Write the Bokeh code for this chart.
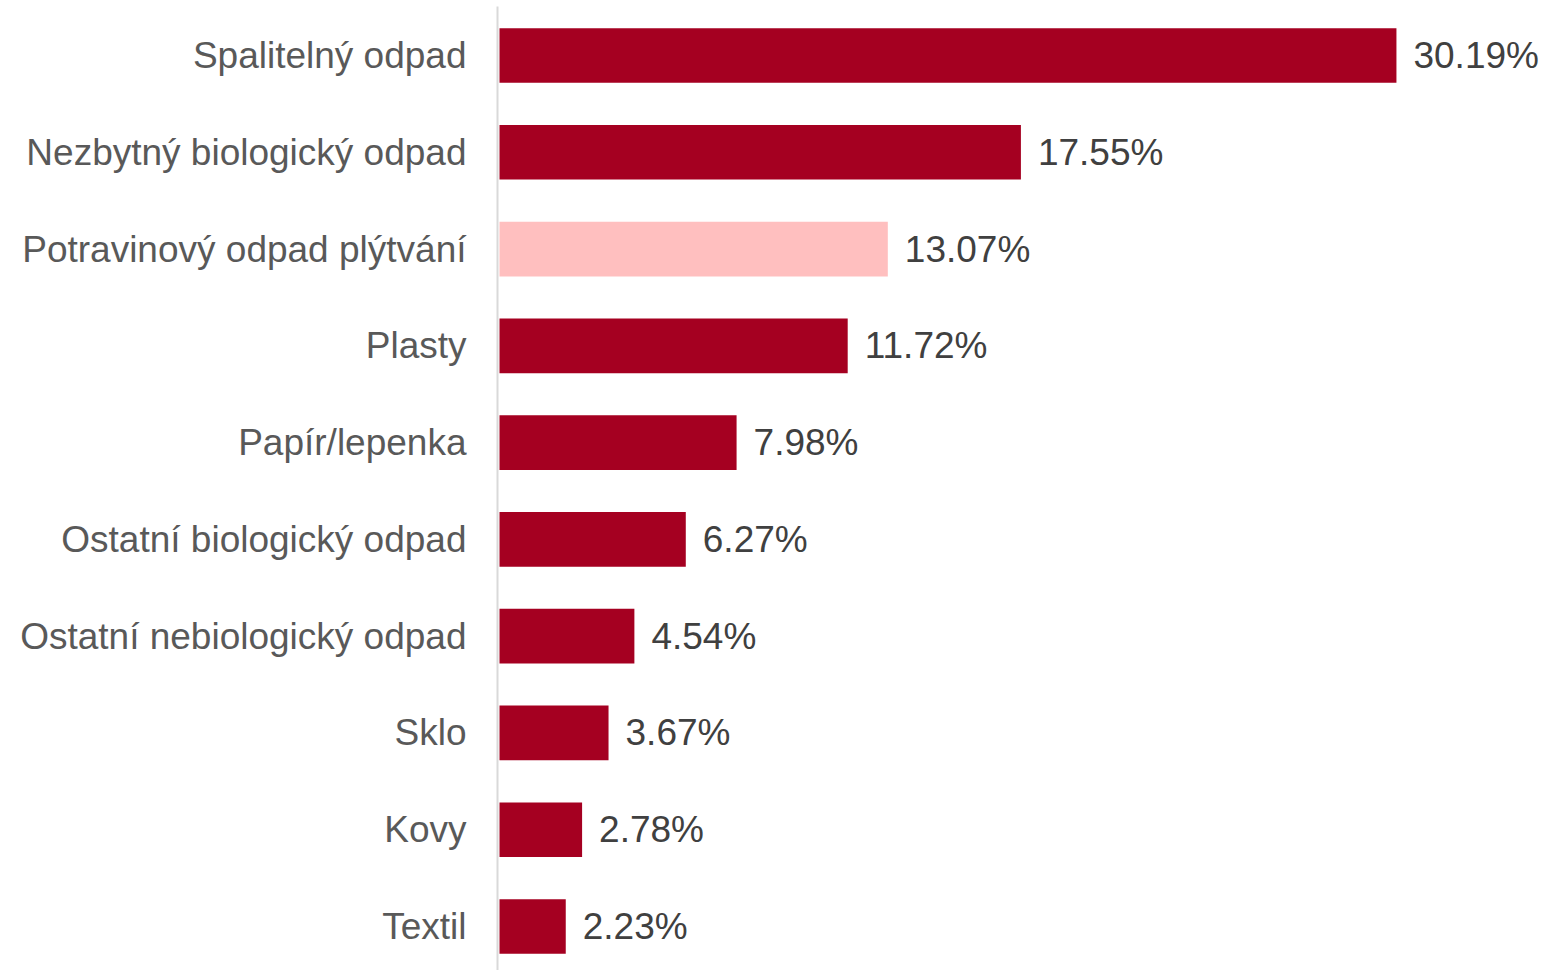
from bokeh.plotting import figure
from bokeh.models import Range1d, FixedTicker, ColumnDataSource
from bokeh.core.properties import value
from bokeh.embed import file_html
from bokeh.resources import INLINE

categories = ["Spalitelný odpad", "Nezbytný biologický odpad", "Potravinový odpad plýtvání",
              "Plasty", "Papír/lepenka", "Ostatní biologický odpad",
              "Ostatní nebiologický odpad", "Sklo", "Kovy", "Textil"]
values = [30.19, 17.55, 13.07, 11.72, 7.98, 6.27, 4.54, 3.67, 2.78, 2.23]
labels = ["30.19%", "17.55%", "13.07%", "11.72%", "7.98%", "6.27%", "4.54%", "3.67%", "2.78%", "2.23%"]
highlight = "Potravinový odpad plýtvání"

DARK = "#A50021"
LIGHT = "#FFBFBF"

idx = list(range(len(categories)))
colors = [LIGHT if c == highlight else DARK for c in categories]

src = ColumnDataSource(dict(y=idx, right=values, color=colors, label=labels, cat=categories))

W, H = 1547, 970
left_px = 497
top_px = 6
px_per_unit = 29.71
x_start = -2 / px_per_unit
x_end = x_start + (W - left_px) / px_per_unit

row_px = 96.78
y_top = -(55 - top_px) / row_px
y_bottom = y_top + (H - top_px) / row_px

p = figure(width=W, height=H, output_backend="svg", toolbar_location=None,
           x_range=Range1d(x_start, x_end), y_range=Range1d(y_bottom, y_top),
           x_axis_location=None, min_border_left=left_px, min_border_right=0,
           min_border_top=top_px, min_border_bottom=0)
p.outline_line_color = None
p.xgrid.visible = False
p.ygrid.visible = False
p.background_fill_color = "white"

p.hbar(y="y", left=0, right="right", height=0.565, fill_color="color", line_color=None, source=src)
p.text(x="right", y="y", text="label", source=src, x_offset=17, text_baseline="middle",
       text_align="left", text_font=value("Liberation Sans"), text_font_size="37px",
       text_color="#404040")

ax = p.yaxis[0]
ax.ticker = FixedTicker(ticks=idx)
ax.major_label_overrides = {i: c for i, c in zip(idx, categories)}
ax.major_tick_line_color = None
ax.minor_tick_line_color = None
ax.major_tick_out = 0
ax.major_tick_in = 0
ax.axis_line_color = "#d9d9d9"
ax.axis_line_width = 2
ax.major_label_standoff = 31
ax.major_label_text_font = "Liberation Sans"
ax.major_label_text_font_size = "37px"
ax.major_label_text_color = "#595959"

open("out.html", "w").write(file_html(p, INLINE))
